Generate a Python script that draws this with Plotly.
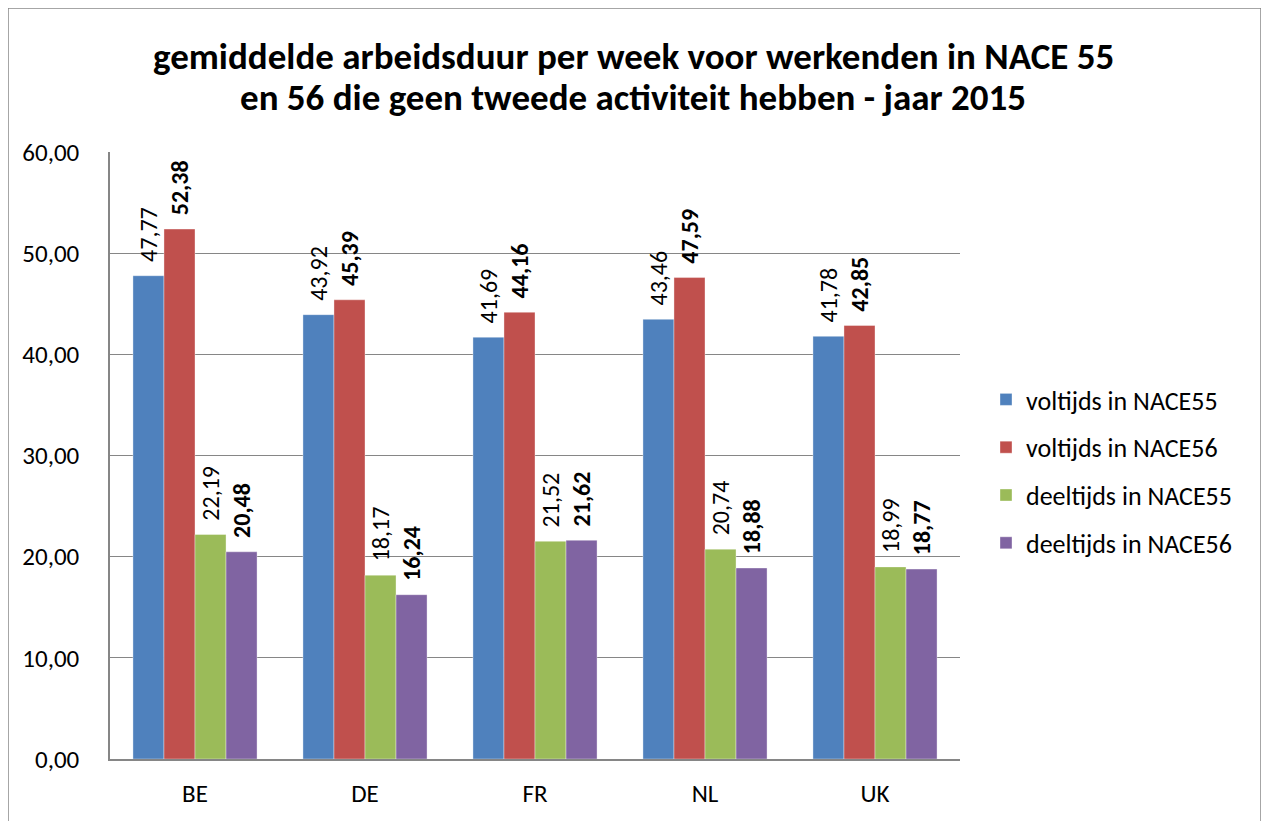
import plotly.graph_objects as go

countries = ["BE", "DE", "FR", "NL", "UK"]
voltijds_55 = [47.77, 43.92, 41.69, 43.46, 41.78]
voltijds_56 = [52.38, 45.39, 44.16, 47.59, 42.85]
deeltijds_55 = [22.19, 18.17, 21.52, 20.74, 18.99]
deeltijds_56 = [20.48, 16.24, 21.62, 18.88, 18.77]

series = [
    ("voltijds in NACE55", voltijds_55, "#4F81BD", False),
    ("voltijds in NACE56", voltijds_56, "#C0504D", True),
    ("deeltijds in NACE55", deeltijds_55, "#9BBB59", False),
    ("deeltijds in NACE56", deeltijds_56, "#8064A2", True),
]

FONT = "Carlito, Calibri, Lato, 'Open Sans', sans-serif"
PAD = "\u00a0\u00a0"  # small gap between bar top and rotated label

fig = go.Figure()
for i, (name, vals, color, bold) in enumerate(series):
    fig.add_trace(go.Bar(
        x=countries, y=vals, name=name,
        marker=dict(color=color, line=dict(width=0.6, color="rgba(255,255,255,0.6)")),
        texttemplate=(PAD + "<b>%{y:.2f}</b>") if bold else (PAD + "%{y:.2f}"),
        textposition="outside", textangle=-90, constraintext="none",
        textfont=dict(family=FONT, size=24, color="black"),
        cliponaxis=False,
        legendgroup=f"g{i}",
    ))

# The page body adds an 8px offset; the figure coordinates are screen - 8
OFF = 8
W, H = 1269 - OFF, 821 - OFF
ml, mt = 110 - OFF, 152 - OFF
pw, ph = 850, 607
mr = W - ml - pw
mb = H - mt - ph

def px_x(x):
    return (x - OFF - ml) / pw

def px_y(y):
    return (H - mb - (y - OFF)) / ph

fig.update_layout(
    width=W, height=H,
    margin=dict(l=ml, r=mr, t=mt, b=mb, autoexpand=False),
    paper_bgcolor="white", plot_bgcolor="white",
    separators=", ",
    barmode="group", bargap=0.27, bargroupgap=0.0,
    font=dict(family=FONT, size=24, color="black"),
    legend=dict(
        x=px_x(986), xanchor="left", y=px_y(376), yanchor="top",
        font=dict(family=FONT, size=26, color="black"),
        tracegroupgap=11, traceorder="grouped",
        itemwidth=30, bgcolor="rgba(0,0,0,0)",
    ),
    showlegend=True,
)

title_lines = [
    ("gemiddelde arbeidsduur per week voor werkenden in NACE 55", 56),
    ("en 56 die geen tweede activiteit hebben - jaar 2015", 97),
]
for txt, yc in title_lines:
    fig.add_annotation(
        text=f"<b>{txt}</b>", xref="paper", yref="paper",
        x=px_x(633), y=px_y(yc), xanchor="center", yanchor="middle",
        height=40, valign="middle",
        showarrow=False, font=dict(family=FONT, size=37, color="black"),
    )

fig.update_yaxes(
    range=[0, 60], dtick=10, tickformat=".2f",
    showgrid=True, gridcolor="#868686", gridwidth=1,
    showline=True, linecolor="#868686", linewidth=1.5,
    ticks="", ticklabelstandoff=24,
    tickfont=dict(family=FONT, size=25, color="black"),
    zeroline=False,
)
fig.update_xaxes(
    showline=True, linecolor="#868686", linewidth=1.5,
    ticks="", ticklabelstandoff=11,
    tickfont=dict(family=FONT, size=25, color="black"),
)

# outer chart border
fig.add_shape(type="rect", xref="paper", yref="paper",
              x0=px_x(8), x1=px_x(1261), y0=px_y(840), y1=px_y(8),
              line=dict(color="#898989", width=1.5), fillcolor="rgba(0,0,0,0)", layer="below")

fig.write_html("out.html")
